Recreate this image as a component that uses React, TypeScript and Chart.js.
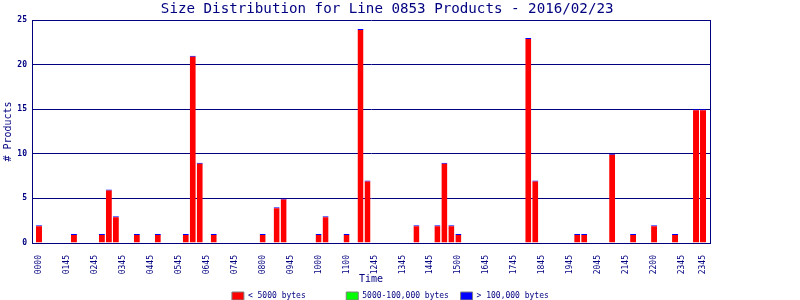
import React, { useEffect, useRef } from "react";
import { Chart, registerables } from "chart.js";

Chart.register(...registerables);

const NAVY = "#000080";
const MONO = "'DejaVu Sans Mono', monospace";

const titleText = "Size Distribution for Line 0853 Products - 2016/02/23";
const legendText = ["< 5000 bytes", "5000-100,000 bytes", "> 100,000 bytes"];
const seriesColors = ["#ff0000", "#00ff00", "#0000ff"];

// 96 quarter-hour slots, products smaller than 5000 bytes
const under5000 = [
  2, 0, 0, 0, 0, 1, 0, 0,
  0, 1, 6, 3, 0, 0, 1, 0,
  0, 1, 0, 0, 0, 1, 21, 9,
  0, 1, 0, 0, 0, 0, 0, 0,
  1, 0, 4, 5, 0, 0, 0, 0,
  1, 3, 0, 0, 1, 0, 24, 7,
  0, 0, 0, 0, 0, 0, 2, 0,
  0, 2, 9, 2, 1, 0, 0, 0,
  0, 0, 0, 0, 0, 0, 23, 7,
  0, 0, 0, 0, 0, 1, 1, 0,
  0, 0, 10, 0, 0, 1, 0, 0,
  2, 0, 0, 1, 0, 0, 15, 15,
];
const between = [
  0, 0, 0, 0, 0, 0, 0, 0, 0, 0, 0, 0, 0, 0, 0, 0,
  0, 0, 0, 0, 0, 0, 0, 0, 0, 0, 0, 0, 0, 0, 0, 0,
  0, 0, 0, 0, 0, 0, 0, 0, 0, 0, 0, 0, 0, 0, 0, 0,
  0, 0, 0, 0, 0, 0, 0, 0, 0, 0, 0, 0, 0, 0, 0, 0,
  0, 0, 0, 0, 0, 0, 0, 0, 0, 0, 0, 0, 0, 0, 0, 0,
  0, 0, 0, 0, 0, 0, 0, 0, 0, 0, 0, 0, 0, 0, 0, 0,
];
const over100k = [
  0, 0, 0, 0, 0, 0, 0, 0, 0, 0, 0, 0, 0, 0, 0, 0,
  0, 0, 0, 0, 0, 0, 0, 0, 0, 0, 0, 0, 0, 0, 0, 0,
  0, 0, 0, 0, 0, 0, 0, 0, 0, 0, 0, 0, 0, 0, 0, 0,
  0, 0, 0, 0, 0, 0, 0, 0, 0, 0, 0, 0, 0, 0, 0, 0,
  0, 0, 0, 0, 0, 0, 0, 0, 0, 0, 0, 0, 0, 0, 0, 0,
  0, 0, 0, 0, 0, 0, 0, 0, 0, 0, 0, 0, 0, 0, 0, 0,
];

// slot positions that carry a tick label, and the label texts
const tickIndex = [0, 4, 8, 12, 16, 20, 24, 28, 32, 36, 40, 44, 48, 52, 56, 60, 64, 68, 72, 76, 80, 84, 88, 92, 95];
const tickLabels = [
  "0000", "0145", "0245", "0345", "0445", "0545", "0645", "0745", "0800",
  "0945", "1000", "1100", "1245", "1345", "1445", "1500", "1645", "1745",
  "1845", "1945", "2045", "2145", "2200", "2345", "2345",
];

const legendPad = [20, 20, 19];

const toPoints = (arr: number[]) => arr.map((v, i) => ({ x: i, y: v }));

export default function App() {
  const ref = useRef<HTMLCanvasElement>(null);

  useEffect(() => {
    document.body.style.margin = "0";
    const canvas = ref.current;
    if (!canvas) return;
    const chart = new Chart(canvas, {
      type: "bar",
      data: {
        datasets: [
          {
            label: legendText[0],
            data: toPoints(under5000) as any,
            backgroundColor: seriesColors[0],
            borderColor: "#0000ff",
            borderWidth: { top: 1, left: 0, right: 0, bottom: 0 } as any,
            borderSkipped: false,
            barThickness: 6,
            inflateAmount: 0,
          },
          {
            label: legendText[1],
            data: toPoints(between) as any,
            backgroundColor: seriesColors[1],
            borderWidth: 0,
            barThickness: 6,
            inflateAmount: 0,
          },
          {
            label: legendText[2],
            data: toPoints(over100k) as any,
            backgroundColor: seriesColors[2],
            borderWidth: 0,
            barThickness: 6,
            inflateAmount: 0,
          },
        ],
      },
      options: {
        responsive: false,
        animation: false,
        layout: { padding: { top: 0, left: 0, right: 0, bottom: -10 } },
        plugins: {
          tooltip: { enabled: false },
          title: {
            display: true,
            text: titleText + "   ",
            color: NAVY,
            font: { family: MONO, size: 14.2, weight: "normal" },
            padding: { top: 1, bottom: 2 },
          },
          legend: {
            position: "bottom",
            labels: {
              boxWidth: 12,
              boxHeight: 8,
              padding: 2,
              color: NAVY,
              font: { family: MONO, size: 8 },
              generateLabels: (c: any) =>
                c.data.datasets.map((ds: any, i: number) => ({
                  text: legendText[i].padEnd(legendPad[i], " "),
                  fillStyle: seriesColors[i],
                  strokeStyle: "#808080",
                  lineWidth: 1,
                  hidden: false,
                  datasetIndex: i,
                  fontColor: NAVY,
                })),
            },
          },
        },
        scales: {
          x: {
            type: "linear",
            min: -1,
            max: 96,
            offset: false,
            stacked: true,
            grid: { display: false },
            border: { display: true, color: NAVY, width: 1 },
            afterBuildTicks: (s: any) => {
              s.ticks = tickIndex.map((v) => ({ value: v }));
            },
            ticks: {
              autoSkip: false,
              minRotation: 90,
              maxRotation: 90,
              color: NAVY,
              font: { family: MONO, size: 8 },
              padding: 4,
              callback: (_v: any, i: number) => tickLabels[i] ?? "",
            },
            title: {
              display: true,
              text: "Time",
              color: NAVY,
              font: { family: MONO, size: 10 },
              padding: { top: 0, bottom: 5 },
            },
            afterFit: (s: any) => {
              s.height = 47;
            },
          } as any,
          y: {
            stacked: true,
            min: 0,
            max: 25,
            z: 1,
            grid: { color: NAVY, drawTicks: false, lineWidth: 1 },
            border: { display: true, color: NAVY, width: 1 },
            ticks: {
              stepSize: 5,
              color: NAVY,
              font: { family: MONO, size: 8, weight: "bold" },
              padding: 5,
            },
            title: {
              display: true,
              text: "# Products",
              color: NAVY,
              font: { family: MONO, size: 10 },
              padding: { top: 2, bottom: 0 },
            },
            afterFit: (s: any) => {
              s.width = 32;
            },
          },
          y2: {
            position: "right",
            display: true,
            min: 0,
            max: 25,
            grid: { display: false },
            border: { display: true, color: NAVY, width: 1 },
            ticks: { display: false },
            afterFit: (s: any) => {
              s.width = 90;
            },
          },
        },
      } as any,
    });
    return () => chart.destroy();
  }, []);

  return (
    <div style={{ width: 800, height: 300 }}>
      <canvas ref={ref} width={800} height={300} />
    </div>
  );
}
